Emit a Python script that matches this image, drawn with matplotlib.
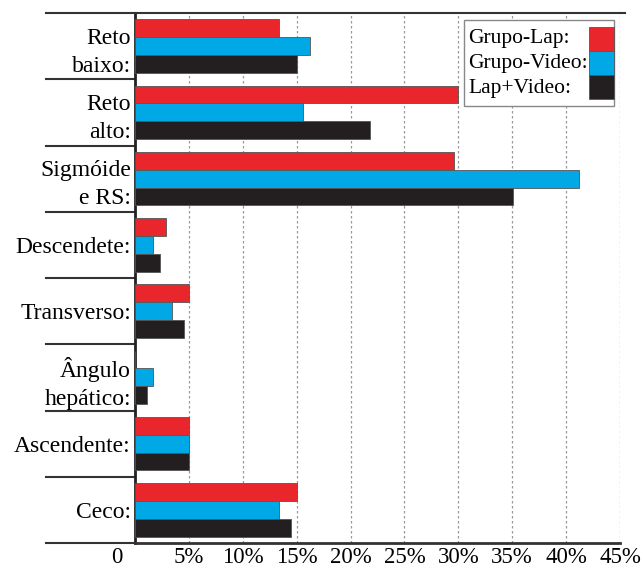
import matplotlib
matplotlib.use("Agg")
import matplotlib.pyplot as plt
import matplotlib.transforms as mtransforms
from matplotlib.patches import Rectangle
import numpy as np

categories = ["Reto\nbaixo:", "Reto\nalto:", "Sigmóide\ne RS:", "Descendete:",
              "Transverso:", "Ângulo\nhepático:", "Ascendente:", "Ceco:"]
grupo_lap = [13.4, 30.0, 29.6, 2.9, 5.0, 0.0, 5.0, 15.0]
grupo_video = [16.2, 15.6, 41.2, 1.7, 3.4, 1.7, 5.0, 13.4]
lap_video = [15.0, 21.8, 35.1, 2.3, 4.5, 1.1, 5.0, 14.5]
series_names = ["Grupo-Lap:", "Grupo-Video:", "Lap+Video:"]
colors = ["#E8262C", "#00A8E6", "#231F20"]
xticks = [0, 5, 10, 15, 20, 25, 30, 35, 40, 45]
xticklabels = ["0", "5%", "10%", "15%", "20%", "25%", "30%", "35%", "40%", "45%"]

plt.rcParams['font.family'] = ['Liberation Serif', 'DejaVu Serif']

W, H = 643, 570
AX_L, AX_T, AX_W, AX_H = 135, 13, 485, 530

fig = plt.figure(figsize=(W / 100, H / 100), dpi=100)
ax = fig.add_axes([AX_L / W, (H - AX_T - AX_H) / H, AX_W / W, AX_H / H])


def px2ax(px, py):
    return (px - AX_L) / AX_W, 1 - (py - AX_T) / AX_H


y = np.arange(len(categories))
h = 0.27
for k, vals in enumerate([grupo_lap, grupo_video, lap_video]):
    ax.barh(y + (k - 1) * h, vals, height=h, color=colors[k],
            edgecolor="#555555", linewidth=0.6, zorder=3)

ax.set_xlim(0, 45)
ax.set_ylim(len(categories) - 0.5, -0.5)

for xv in xticks[1:]:
    ax.axvline(xv, color="#999999", linestyle=(0, (2, 2)), linewidth=0.9, zorder=1)

ax.set_xticks(xticks)
ax.set_xticklabels(xticklabels, fontsize=16.5)
ax.set_yticks(y)
ax.set_yticklabels(categories, fontsize=17, linespacing=1.45)
ax.tick_params(axis="both", length=0)
ax.tick_params(axis="x", pad=3)
ax.tick_params(axis="y", pad=3)

# shift the "0" label left
lbl0 = ax.get_xticklabels()[0]
lbl0.set_transform(lbl0.get_transform() +
                   mtransforms.ScaledTranslation(-18 / 100, 0, fig.dpi_scale_trans))

ax.spines["right"].set_visible(False)
ax.spines["left"].set_linewidth(2.0)
ax.spines["bottom"].set_linewidth(2.0)
ax.spines["top"].set_linewidth(1.5)
ax.spines["left"].set_color("#222222")
ax.spines["bottom"].set_color("#333333")
ax.spines["top"].set_color("#333333")

# separator lines left of axis at category boundaries
xl0 = (46 - AX_L) / AX_W
for b in np.arange(-0.5, len(categories), 1.0):
    ax.plot([xl0, 0], [b, b], transform=ax.get_yaxis_transform(),
            color="#333333", linewidth=1.5, clip_on=False)
ax.plot([1, 1 + 5 / AX_W], [1, 1], transform=ax.transAxes, color="#333333",
        linewidth=1.5, clip_on=False)

# legend drawn as frame + text + colour blocks
fx0, fy1 = px2ax(464, 20)
fx1, fy0 = px2ax(614, 106)
ax.add_patch(Rectangle((fx0, fy0), fx1 - fx0, fy1 - fy0, transform=ax.transAxes,
                       facecolor="white", edgecolor="#888888", linewidth=1.0,
                       zorder=5, clip_on=False))
patch_tops = [27, 51, 75]
baselines = [43, 68, 93]
for k, name in enumerate(series_names):
    px0, py_top = px2ax(589, patch_tops[k])
    px1, py_bot = px2ax(614, patch_tops[k] + 24)
    ax.add_patch(Rectangle((px0, py_bot), px1 - px0, py_top - py_bot,
                           transform=ax.transAxes, facecolor=colors[k],
                           edgecolor="#555555", linewidth=0.6, zorder=6,
                           clip_on=False))
    tx, ty = px2ax(468, baselines[k])
    ax.text(tx, ty, name, transform=ax.transAxes, fontsize=15.5,
            ha="left", va="baseline", zorder=7)

fig.savefig("out.png", dpi=100)
